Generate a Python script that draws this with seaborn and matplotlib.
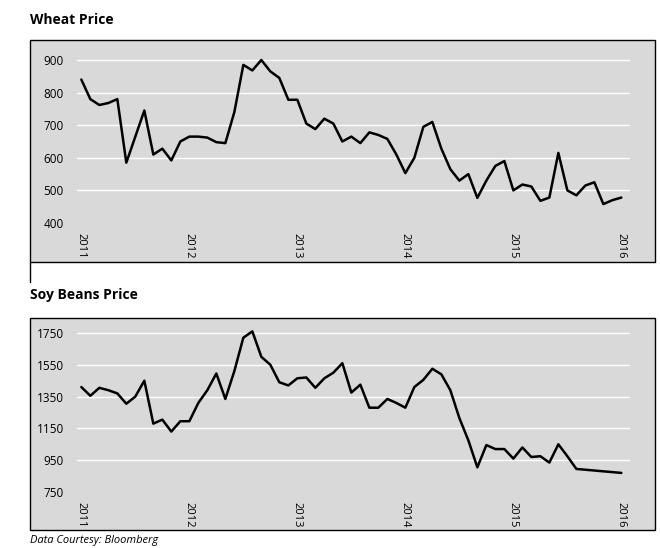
import numpy as np
import pandas as pd
import matplotlib
matplotlib.use('Agg')
import matplotlib.pyplot as plt
import seaborn as sns
from matplotlib.patches import Rectangle

sns.set_style('dark')
plt.rcParams['font.family'] = ['Open Sans', 'DejaVu Sans']
plt.rcParams['text.color'] = 'black'
plt.rcParams['xtick.color'] = 'black'
plt.rcParams['ytick.color'] = 'black'

wheat = [840, 780, 762, 768, 780, 585, 665, 745, 610, 628, 592, 650,
         665, 665, 662, 648, 645, 740, 885, 868, 900, 865, 845, 778,
         778, 705, 688, 720, 705, 650, 665, 645, 678, 670, 658, 610,
         553, 600, 695, 710, 628, 565, 530, 550, 477, 530, 575, 590,
         500, 518, 512, 468, 478, 615, 500, 485, 515, 525, 458, 470, 478]
soy = [1410, 1355, 1405, 1390, 1370, 1305, 1350, 1450, 1180, 1205, 1130, 1195,
       1195, 1310, 1390, 1495, 1335, 1510, 1720, 1760, 1600, 1550, 1440, 1420,
       1465, 1470, 1405, 1465, 1500, 1560, 1375, 1425, 1280, 1280, 1335, 1310,
       1280, 1410, 1455, 1525, 1490, 1390, 1215, 1075, 905, 1045, 1020, 1020,
       960, 1030, 970, 975, 935, 1050, 975, 895, 890, 885, 880, 875, 870]
df = pd.DataFrame({'t': 2011 + np.arange(61) / 12, 'wheat': wheat, 'soy': soy})

fig = plt.figure(figsize=(6.6, 5.48), dpi=100)
W, H = 660, 548

def box(x0, y0, x1, y1):
    fig.patches.append(Rectangle((x0 / W, 1 - y1 / H), (x1 - x0) / W, (y1 - y0) / H,
                                 transform=fig.transFigure, fc='#d9d9d9', ec='black',
                                 lw=1.0, zorder=0))

def panel(y_top, y_bot, col, ylim, yticks, title, ty):
    ax = fig.add_axes([77 / W, 1 - y_bot / H, 553 / W, (y_bot - y_top) / H])
    ax.set_zorder(3)
    ax.patch.set_visible(False)
    sns.lineplot(data=df, x='t', y=col, color='black', lw=1.8, ax=ax)
    ax.set_xlim(2010.96, 2016.08)
    ax.set_ylim(*ylim)
    ax.set_yticks(yticks)
    ax.set_xticks(range(2011, 2017))
    ax.set_xticklabels([str(y) for y in range(2011, 2017)], rotation=270, fontsize=8)
    ax.tick_params(axis='y', labelsize=8.5, pad=6)
    ax.tick_params(axis='x', pad=4)
    ax.grid(axis='y', color='white', lw=1)
    ax.grid(axis='x', visible=False)
    ax.get_ygridlines()[0].set_visible(False)
    ax.set_xlabel('')
    ax.set_ylabel('')
    for s in ax.spines.values():
        s.set_visible(False)
    fig.text(30 / W, 1 - ty / H, title, fontsize=10, fontweight='bold', va='center')
    return ax

box(30, 40, 655, 262)
panel(45, 223, 'wheat', (400, 946), [400, 500, 600, 700, 800, 900], 'Wheat Price', 20)
box(30, 318, 655, 530)
panel(325, 492, 'soy', (750, 1800), [750, 950, 1150, 1350, 1550, 1750], 'Soy Beans Price', 295)
fig.add_artist(plt.Line2D([30 / W, 30 / W], [1 - 262 / H, 1 - 282 / H], color='black', lw=1))
fig.text(30 / W, 1 - 540 / H, 'Data Courtesy: Bloomberg', fontsize=8, style='italic', va='center')

fig.savefig('out.png', dpi=100)
